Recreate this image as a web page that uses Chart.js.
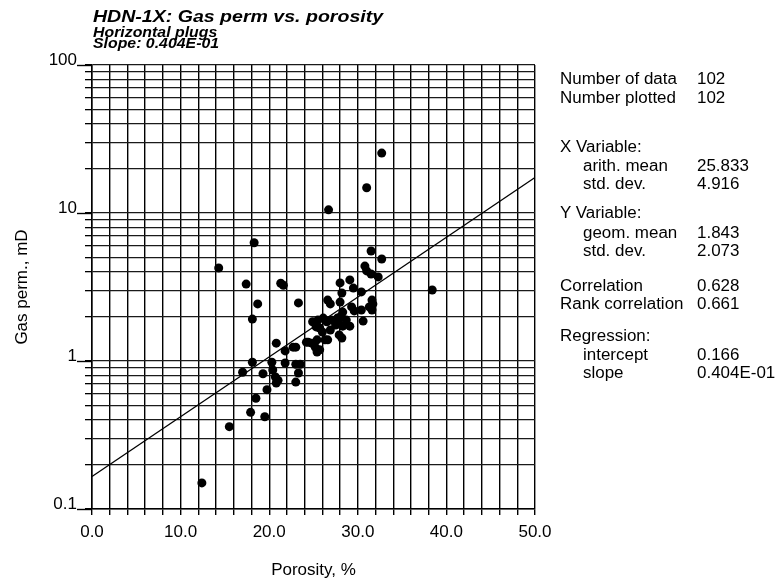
<!DOCTYPE html>
<html><head><meta charset="utf-8">
<script src="https://cdn.jsdelivr.net/npm/chart.js@4.4.1/dist/chart.umd.min.js"></script>
<style>
html,body{margin:0;padding:0;background:#fff;}
#wrap{position:relative;width:779px;height:583px;overflow:hidden;font-family:"Liberation Sans",Arial,Helvetica,sans-serif;color:#000;}
canvas{position:absolute;left:0;top:0;}
.tx{position:absolute;white-space:nowrap;line-height:1;transform-origin:0 50%;}
</style></head><body>
<div id="wrap"><canvas id="c" width="779" height="583"></canvas></div>
<script>
// ---- data ----
const porosity = [32.7,31.0,26.7,18.3,14.3,17.4,21.3,21.6,18.7,18.1,23.3,12.4,
  31.5,32.7,30.8,31.0,31.5,32.3,38.4,
  28.0,29.1,29.5,28.2,30.4,26.6,26.9,28.0,31.6,31.7,31.3,31.6,30.4,29.3,29.6,30.6,
  28.3,28.1,27.7,27.8,28.7,29.1,28.3,27.5,27.0,26.5,26.1,25.5,24.9,25.3,26.0,26.9,25.7,
  27.9,28.2,26.6,26.3,25.4,24.2,24.8,25.2,25.7,25.4,24.4,23.0,22.7,21.8,20.8,
  18.1,17.0,20.3,19.3,20.4,20.7,21.0,20.8,19.75,18.5,17.9,19.5,15.5,21.8,23.0,23.5,23.3,23.0];
const gasPerm = [25.4,14.8,10.5,6.3,4.25,3.31,3.35,3.25,2.43,1.92,2.47,0.15,
  5.54,4.89,4.38,4.06,3.87,3.70,3.02,
  3.37,3.53,3.11,2.88,2.93,2.58,2.43,2.50,2.58,2.43,2.32,2.21,2.21,2.32,2.18,1.86,
  2.14,2.01,1.95,1.84,1.89,1.72,1.72,1.75,1.89,1.84,1.95,1.89,1.84,1.70,1.57,1.62,1.67,
  1.50,1.43,1.39,1.39,1.39,1.34,1.32,1.24,1.19,1.15,1.34,1.24,1.24,1.17,1.32,
  0.98,0.84,0.98,0.82,0.87,0.78,0.74,0.71,0.64,0.56,0.45,0.42,0.36,0.97,0.95,0.95,0.83,0.72];
const xTickLabels = ['0.0','10.0','20.0','30.0','40.0','50.0'];
const yTickLabels = ['0.1','1','10','100'];
const regIntercept = 0.166;
const regSlope = 0.0404;
const titleText = 'HDN-1X: Gas perm vs. porosity';
const subtitleLines = ['Horizontal plugs','Slope:  0.404E-01'];
const xTitle = 'Porosity, %';
const yTitle = 'Gas perm., mD';
const statLabels = ['Number of data','Number plotted','X Variable:','arith. mean','std. dev.','Y Variable:','geom. mean','std. dev.','Correlation','Rank correlation','Regression:','intercept','slope'];
const statValues = ['102','102','','25.833','4.916','','1.843','2.073','0.628','0.661','','0.166','0.404E-01'];
const statIndented = [false,false,false,true,true,false,true,true,false,false,false,true,true];

// ---- layout / styling ----
const wrap = document.getElementById('wrap');
function addText(txt, left, cy, size, weight, style, sx, sy){
  const d = document.createElement('div');
  d.className = 'tx';
  d.textContent = txt;
  d.style.left = left + 'px';
  d.style.top = (cy - size/2) + 'px';
  d.style.fontSize = size + 'px';
  d.style.fontWeight = weight;
  d.style.fontStyle = style;
  d.style.transform = 'scale(' + sx + ',' + (sy || 1) + ')';
  wrap.appendChild(d);
}
addText(titleText, 93, 16, 17, 'bold', 'italic', 1.15);
addText(subtitleLines[0], 93, 32, 13, 'bold', 'italic', 1.22, 1.08);
addText(subtitleLines[1], 93, 43, 13, 'bold', 'italic', 1.22, 1.08);
const statY = [79,98,147,166,184,213,233,251,286,304,336,355,373];
statLabels.forEach((l,i)=>{
  addText(l, statIndented[i] ? 583 : 560, statY[i], 16, 'normal', 'normal', 1.06);
  if (statValues[i]) addText(statValues[i], 697, statY[i], 16, 'normal', 'normal', 1.06);
});

const yMajor = yTickLabels.map(Number);
const isMajor = v => yMajor.some(m => Math.abs(v/m - 1) < 1e-6);

const majorTicks = {
  id: 'majorTicks',
  afterDraw(chart){
    const {ctx, chartArea, scales} = chart;
    ctx.save();
    ctx.strokeStyle = '#000';
    ctx.lineWidth = 1.4;
    yMajor.forEach(v => {
      const py = Math.round(scales.y.getPixelForValue(v)) + 0.5;
      ctx.beginPath();
      ctx.moveTo(chartArea.left - 15, py);
      ctx.lineTo(chartArea.left, py);
      ctx.stroke();
    });
    ctx.restore();
  }
};

new Chart(document.getElementById('c'), {
  type: 'scatter',
  data: {
    datasets: [
      {
        type: 'line',
        data: [{x:0, y:regIntercept}, {x:50, y:regIntercept*Math.pow(10, regSlope*50)}],
        borderColor: '#000', borderWidth: 1.3, pointRadius: 0, fill: false, tension: 0
      },
      {
        data: porosity.map((p,i) => ({x:p, y:gasPerm[i]})),
        backgroundColor: '#000', borderWidth: 0, pointRadius: 4.5, pointHoverRadius: 4.5
      }
    ]
  },
  options: {
    responsive: false,
    devicePixelRatio: 1,
    animation: false,
    layout: { padding: { top: 65, right: 244, bottom: 0, left: 0 } },
    plugins: { legend: { display: false }, tooltip: { enabled: false } },
    scales: {
      x: {
        type: 'linear', min: 0, max: 50,
        afterFit: s => { s.height = 74; },
        ticks: {
          stepSize: 2, autoSkip: false, maxRotation: 0, padding: 7,
          color: '#000', font: { family: '"Liberation Sans", Arial, sans-serif', size: 17 },
          callback: v => (Math.abs(v % 10) < 1e-9 ? xTickLabels[Math.round(v/10)] : '')
        },
        grid: { color: '#000', lineWidth: 1.4, tickLength: 6, tickColor: '#000' },
        border: { display: true, color: '#000', width: 1.5 },
        title: { display: true, text: xTitle, color: '#000', padding: { top: 0, bottom: 2 },
          font: { family: '"Liberation Sans", Arial, sans-serif', size: 17 } }
      },
      y: {
        type: 'logarithmic', min: 0.1, max: 100,
        afterFit: s => { s.width = 92; },
        afterBuildTicks: s => {
          const t = [];
          [0.1, 1, 10].forEach(d => { for (let m = 1; m <= 9; m++) t.push({ value: +(m*d).toPrecision(6) }); });
          t.push({ value: 100 });
          s.ticks = t;
        },
        ticks: {
          autoSkip: false, padding: 8, labelOffset: -5,
          color: '#000', font: { family: '"Liberation Sans", Arial, sans-serif', size: 17 },
          callback: v => (isMajor(v) ? yTickLabels[yMajor.findIndex(m => Math.abs(v/m - 1) < 1e-6)] : '')
        },
        grid: { color: '#1a1a1a', lineWidth: 1.3, tickLength: 7, tickColor: '#000' },
        border: { display: true, color: '#000', width: 1.5 },
        title: { display: true, text: yTitle, color: '#000', padding: { top: 12, bottom: 0 },
          font: { family: '"Liberation Sans", Arial, sans-serif', size: 17 } }
      }
    }
  },
  plugins: [majorTicks]
});
</script>
</body></html>
